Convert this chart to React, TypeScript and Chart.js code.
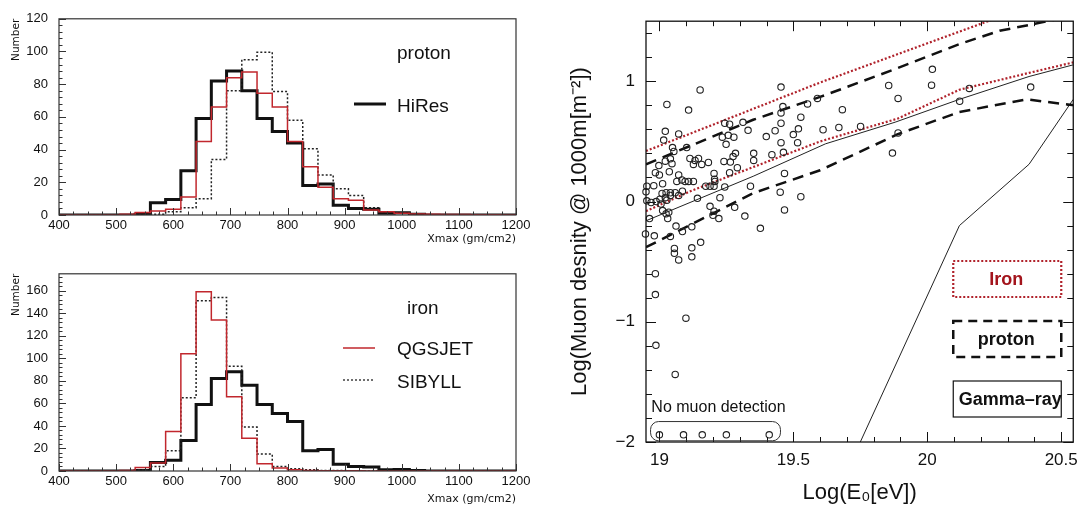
import React, { useEffect, useRef } from "react";
import { Chart, registerables } from "chart.js";

Chart.register(...registerables);

const SANS = "'Liberation Sans', Arial, Helvetica, sans-serif";
const DEJAVU = "'DejaVu Sans', 'Liberation Sans', sans-serif";

// ---------------- Xmax histograms (30 bins, 400..1200 g/cm2) ----------------
const XMAX_MIN = 400;
const XMAX_MAX = 1200;
const XMAX_BINS = 30;

const HIRES = [0, 0, 0, 0, 0, 0.5, 7.5, 9.5, 27, 59, 82, 88, 76, 59, 51, 44, 18, 19, 6, 4, 3.5, 1, 1.4, 0.5, 0, 0, 0, 0, 0, 0];
const PROTON_QGSJET = [0, 0, 0, 0, 0.5, 1.5, 2.5, 3.5, 11, 45, 66, 84, 87.5, 74.5, 66, 45, 29.5, 17, 10, 9, 3, 2, 1, 0.6, 0.4, 0.3, 0.3, 0.2, 0.2, 0];
const PROTON_SIBYLL = [0, 0, 0, 0, 0, 0, 0.5, 2, 4.5, 10, 34, 76, 95, 99.5, 75.5, 58, 40.5, 24.5, 16, 12, 4.5, 2, 1.4, 0.5, 0, 0, 0, 0, 0, 0];
const IRON_QGSJET = [0, 0, 0, 0, 0.5, 3, 7, 35, 104, 159, 134, 66, 29, 6.5, 2.6, 1.2, 0.5, 0.3, 0.3, 0.2, 0, 0, 0, 0, 0, 0, 0, 0, 0, 0];
const IRON_SIBYLL = [0, 0, 0, 0, 0, 1, 4, 18, 65, 151, 154, 93, 39, 15, 4, 2, 1, 0.5, 0.5, 0.3, 0, 0, 0, 0, 0, 0, 0, 0, 0, 0];

const HIST_X_LABELS = [400, 500, 600, 700, 800, 900, 1000, 1100, 1200];
const TOP_Y_LABELS = [0, 20, 40, 60, 80, 100, 120];
const BOTTOM_Y_LABELS = [0, 20, 40, 60, 80, 100, 120, 140, 160];
const TOP_Y_MAX = 120;
const BOTTOM_Y_MAX = 175;

// ---------------- Muon density vs energy ----------------
const E_MIN = 18.95;
const E_MAX = 20.545;
const MU_MIN = -2;
const MU_MAX = 1.5;
const E_TICKS = [19, 19.5, 20, 20.5];
const E_TICK_LABELS = ["19", "19.5", "20", "20.5"];
const MU_TICKS = [-2, -1, 0, 1];
const MU_TICK_LABELS = ["\u22122", "\u22121", "0", "1"];

const EVENTS: [number, number][] = [
  [19.152, 0.928], [19.028, 0.807], [19.109, 0.761], [19.022, 0.584], [19.016, 0.511], [19.072, 0.562],
  [19.244, 0.651], [19.262, 0.643], [19.312, 0.659], [19.331, 0.592], [19.235, 0.535], [19.257, 0.551],
  [19.278, 0.535], [19.249, 0.476], [19.049, 0.449], [19.054, 0.417], [19.102, 0.449], [18.998, 0.299],
  [19.022, 0.336], [19.047, 0.315], [19.041, 0.355], [19.114, 0.358], [19.133, 0.342], [19.146, 0.358],
  [19.158, 0.309], [19.127, 0.309], [19.183, 0.325], [19.241, 0.334], [19.265, 0.328], [19.275, 0.374],
  [19.284, 0.401], [19.352, 0.401], [19.352, 0.342], [19.291, 0.282], [18.985, 0.24], [19.0, 0.221],
  [19.037, 0.248], [19.072, 0.221], [19.065, 0.167], [19.084, 0.18], [19.096, 0.167], [19.109, 0.167],
  [19.127, 0.167], [19.204, 0.234], [19.206, 0.186], [19.262, 0.24], [18.953, 0.127], [18.95, 0.081],
  [18.979, 0.132], [19.012, 0.148], [19.01, 0.067], [19.025, 0.073], [19.041, 0.073], [19.086, 0.086],
  [19.072, 0.051], [19.059, 0.073], [19.173, 0.127], [19.189, 0.127], [19.204, 0.127], [19.207, 0.167],
  [19.244, 0.121], [19.34, 0.127], [18.953, 0.006], [18.969, -0.008], [18.988, 0.0], [19.002, 0.019],
  [19.022, 0.032], [19.041, 0.051], [19.028, 0.011], [19.006, -0.021], [19.142, 0.027], [19.226, 0.032],
  [19.281, -0.048], [19.189, -0.04], [19.204, -0.08], [19.2, -0.115], [19.222, -0.142], [19.012, -0.075],
  [19.025, -0.102], [19.035, -0.089], [18.963, -0.142], [19.031, -0.142], [19.319, -0.121], [19.062, -0.204],
  [19.086, -0.25], [19.121, -0.21], [18.948, -0.269], [18.981, -0.285], [19.041, -0.29], [19.377, -0.223],
  [19.154, -0.339], [19.056, -0.39], [19.056, -0.43], [19.121, -0.385], [19.072, -0.486], [19.121, -0.46],
  [18.985, -0.6], [18.985, -0.774], [19.099, -0.97], [18.987, -1.196], [19.059, -1.438],
  [19.0, -1.94], [19.09, -1.94], [19.16, -1.94], [19.25, -1.94], [19.41, -1.94],
  [19.454, 0.952], [19.461, 0.79], [19.454, 0.737], [19.553, 0.812], [19.59, 0.858], [19.528, 0.702],
  [19.683, 0.764], [19.454, 0.651], [19.432, 0.589], [19.519, 0.605], [19.5, 0.557], [19.399, 0.54],
  [19.454, 0.49], [19.516, 0.49], [19.611, 0.597], [19.67, 0.616], [19.751, 0.624], [19.42, 0.39],
  [19.463, 0.409], [19.856, 0.965], [19.891, 0.858], [19.891, 0.57], [19.87, 0.403], [19.467, 0.234],
  [19.451, 0.078], [19.528, 0.04], [19.467, -0.07],
  [20.019, 1.1], [20.016, 0.968], [20.121, 0.834], [20.157, 0.941], [20.386, 0.952],
];

const IRON_UPPER: [number, number][] = [[18.95, 0.42], [19.6, 0.99], [20.3, 1.56]];
const IRON_LOWER: [number, number][] = [[18.95, -0.08], [19.12, 0.09], [19.6, 0.5], [19.89, 0.69], [20.12, 0.93], [20.38, 1.07], [20.55, 1.16]];
const PROTON_UPPER: [number, number][] = [[18.95, 0.31], [19.35, 0.68], [19.6, 0.87], [19.89, 1.11], [20.12, 1.31], [20.27, 1.42], [20.45, 1.5], [20.55, 1.55]];
const PROTON_LOWER: [number, number][] = [[18.95, -0.38], [19.35, 0.07], [19.6, 0.26], [19.89, 0.56], [20.12, 0.745], [20.37, 0.85], [20.55, 0.8]];
const SOLID_REF: [number, number][] = [[18.95, -0.16], [19.35, 0.21], [19.62, 0.48], [19.88, 0.66], [20.12, 0.85], [20.38, 1.04], [20.55, 1.14]];
const GAMMA: [number, number][] = [[19.75, -2.0], [20.12, -0.2], [20.38, 0.31], [20.545, 0.85]];

const RED = "#c1272d";
const IRON_RED = "#b0222b";

// ---------------- helpers ----------------
function range(a: number, b: number, step: number): number[] {
  const out: number[] = [];
  for (let v = a; v <= b + 1e-9; v += step) out.push(Math.round(v * 1000) / 1000);
  return out;
}

function stepData(values: number[]) {
  const w = (XMAX_MAX - XMAX_MIN) / XMAX_BINS;
  const pts = values.map((v, i) => ({ x: XMAX_MIN + i * w, y: v }));
  pts.push({ x: XMAX_MAX, y: values[values.length - 1] });
  return pts;
}

function pairs(p: [number, number][]) {
  return p.map(([x, y]) => ({ x, y }));
}

type Side = "bottom" | "top" | "left" | "right";
interface TickSet {
  axis: "x" | "y";
  sides: Side[];
  major: number[];
  minor: number[];
  majorLen: number;
  minorLen: number;
}

function framePlugin(id: string, frameColor: string, frameWidth: number, tickSets: TickSet[], extra?: (chart: any) => void) {
  return {
    id,
    afterDatasetsDraw(chart: any) {
      const { ctx, chartArea: a, scales } = chart;
      ctx.save();
      ctx.strokeStyle = frameColor;
      ctx.lineWidth = 1;
      ctx.setLineDash([]);
      for (const ts of tickSets) {
        const sc = scales[ts.axis];
        const draw = (v: number, len: number) => {
          const p = Math.round(sc.getPixelForValue(v)) + 0.5;
          for (const side of ts.sides) {
            ctx.beginPath();
            if (side === "bottom") { ctx.moveTo(p, a.bottom); ctx.lineTo(p, a.bottom - len); }
            else if (side === "top") { ctx.moveTo(p, a.top); ctx.lineTo(p, a.top + len); }
            else if (side === "left") { ctx.moveTo(a.left, p); ctx.lineTo(a.left + len, p); }
            else { ctx.moveTo(a.right, p); ctx.lineTo(a.right - len, p); }
            ctx.stroke();
          }
        };
        ts.minor.forEach((v) => draw(v, ts.minorLen));
        ts.major.forEach((v) => draw(v, ts.majorLen));
      }
      ctx.lineWidth = frameWidth;
      ctx.strokeRect(a.left, a.top, a.right - a.left, a.bottom - a.top);
      ctx.restore();
      if (extra) {
        ctx.save();
        extra(chart);
        ctx.restore();
      }
    },
  };
}

function histConfig(o: {
  datasets: any[];
  yMax: number;
  yLabels: number[];
  padTop: number;
  xAxisHeight: number;
  titlePad: number;
  legend: (chart: any) => void;
}): any {
  const ticks: TickSet[] = [
    { axis: "x", sides: ["bottom"], major: HIST_X_LABELS, minor: range(XMAX_MIN, XMAX_MAX, 25), majorLen: 7, minorLen: 3.5 },
    { axis: "y", sides: ["left"], major: o.yLabels, minor: range(0, o.yMax, 4), majorLen: 7, minorLen: 3.5 },
  ];
  return {
    type: "line",
    data: { datasets: o.datasets },
    options: {
      animation: false,
      responsive: false,
      events: [],
      layout: { padding: { top: o.padTop, right: 44, left: 0, bottom: 0 } },
      plugins: { legend: { display: false }, tooltip: { enabled: false } },
      elements: { point: { radius: 0 }, line: { tension: 0 } },
      scales: {
        x: {
          type: "linear",
          min: XMAX_MIN,
          max: XMAX_MAX,
          grid: { display: false, drawTicks: false },
          border: { display: false },
          afterBuildTicks: (s: any) => { s.ticks = HIST_X_LABELS.map((v) => ({ value: v })); },
          ticks: { padding: 3, color: "#111", font: { family: SANS, size: 13 }, maxRotation: 0, autoSkip: false, callback: (v: any) => String(v) },
          title: { display: true, text: "Xmax (gm/cm2)", align: "end", color: "#111", font: { family: DEJAVU, size: 11 }, padding: { top: 0, bottom: o.titlePad } },
          afterFit: (s: any) => { s.height = o.xAxisHeight; },
        },
        y: {
          type: "linear",
          min: 0,
          max: o.yMax,
          grid: { display: false, drawTicks: false },
          border: { display: false },
          afterBuildTicks: (s: any) => { s.ticks = o.yLabels.map((v) => ({ value: v })); },
          ticks: { padding: 11, color: "#111", font: { family: SANS, size: 13 }, autoSkip: false, callback: (v: any) => String(v) },
          title: { display: true, text: "Number", align: "end", color: "#111", font: { family: DEJAVU, size: 10.5 }, padding: { top: 10, bottom: 0 } },
          afterFit: (s: any) => { s.width = 59; },
        },
      },
    },
    plugins: [framePlugin("histFrame", "#333", 1.2, ticks, o.legend)],
  };
}

function legendLine(ctx: CanvasRenderingContext2D, x1: number, x2: number, y: number, color: string, width: number, dash: number[]) {
  ctx.beginPath();
  ctx.strokeStyle = color;
  ctx.lineWidth = width;
  ctx.setLineDash(dash);
  ctx.moveTo(x1, y);
  ctx.lineTo(x2, y);
  ctx.stroke();
  ctx.setLineDash([]);
}

function legendText(ctx: CanvasRenderingContext2D, text: string, x: number, y: number) {
  ctx.fillStyle = "#111";
  ctx.font = `19px ${SANS}`;
  ctx.textAlign = "left";
  ctx.textBaseline = "middle";
  ctx.fillText(text, x, y);
}

function topHistConfig() {
  return histConfig({
    datasets: [
      { data: stepData(PROTON_QGSJET), stepped: "before", borderColor: RED, borderWidth: 1.5 },
      { data: stepData(PROTON_SIBYLL), stepped: "before", borderColor: "#222", borderWidth: 1.5, borderDash: [2, 2] },
      { data: stepData(HIRES), stepped: "before", borderColor: "#111", borderWidth: 3 },
    ],
    yMax: TOP_Y_MAX,
    yLabels: TOP_Y_LABELS,
    padTop: 15,
    xAxisHeight: 35,
    titlePad: 4,
    legend: (chart) => {
      const ctx = chart.ctx;
      legendText(ctx, "proton", 397, 54);
      legendText(ctx, "HiRes", 397, 107);
      legendLine(ctx, 354, 386, 104, "#111", 3, []);
    },
  });
}

function bottomHistConfig() {
  return histConfig({
    datasets: [
      { data: stepData(IRON_QGSJET), stepped: "before", borderColor: RED, borderWidth: 1.5 },
      { data: stepData(IRON_SIBYLL), stepped: "before", borderColor: "#222", borderWidth: 1.5, borderDash: [2, 2] },
      { data: stepData(HIRES), stepped: "before", borderColor: "#111", borderWidth: 3 },
    ],
    yMax: BOTTOM_Y_MAX,
    yLabels: BOTTOM_Y_LABELS,
    padTop: 17,
    xAxisHeight: 38,
    titlePad: 3,
    legend: (chart) => {
      const ctx = chart.ctx;
      legendText(ctx, "iron", 407, 54);
      legendText(ctx, "QGSJET", 397, 95);
      legendLine(ctx, 343, 375, 93, RED, 1.5, []);
      legendText(ctx, "SIBYLL", 397, 128);
      legendLine(ctx, 343, 375, 125, "#222", 1.3, [2, 2]);
    },
  });
}

function roundRectPath(ctx: CanvasRenderingContext2D, x: number, y: number, w: number, h: number, r: number) {
  ctx.beginPath();
  ctx.moveTo(x + r, y);
  ctx.lineTo(x + w - r, y);
  ctx.arcTo(x + w, y, x + w, y + r, r);
  ctx.lineTo(x + w, y + h - r);
  ctx.arcTo(x + w, y + h, x + w - r, y + h, r);
  ctx.lineTo(x + r, y + h);
  ctx.arcTo(x, y + h, x, y + h - r, r);
  ctx.lineTo(x, y + r);
  ctx.arcTo(x, y, x + r, y, r);
  ctx.closePath();
}

function muonConfig(): any {
  const lineDs = (pts: [number, number][], color: string, width: number, dash: number[]) => ({
    type: "line",
    data: pairs(pts),
    showLine: true,
    borderColor: color,
    borderWidth: width,
    borderDash: dash,
    pointRadius: 0,
    fill: false,
    tension: 0,
  });
  const ticks: TickSet[] = [
    { axis: "x", sides: ["bottom", "top"], major: E_TICKS, minor: range(19, 20.5, 0.1), majorLen: 10, minorLen: 5 },
    { axis: "y", sides: ["left", "right"], major: MU_TICKS, minor: range(-2, 1.4, 0.2), majorLen: 10, minorLen: 6 },
  ];
  const annotate = (chart: any) => {
    const ctx: CanvasRenderingContext2D = chart.ctx;
    const xs = chart.scales.x;
    const ys = chart.scales.y;
    // "No muon detection" bracket around the non-detected events
    ctx.strokeStyle = "#333";
    ctx.lineWidth = 1;
    const bx1 = xs.getPixelForValue(18.967);
    const bx2 = xs.getPixelForValue(19.452);
    const by1 = ys.getPixelForValue(-1.83);
    const by2 = ys.getPixelForValue(-1.99);
    roundRectPath(ctx, bx1, by1, bx2 - bx1, by2 - by1, 8);
    ctx.stroke();
    ctx.fillStyle = "#111";
    ctx.font = `16px ${SANS}`;
    ctx.textAlign = "left";
    ctx.textBaseline = "middle";
    ctx.fillText("No muon detection", xs.getPixelForValue(18.97), ys.getPixelForValue(-1.71));

    // legend boxes
    const a = chart.chartArea;
    const bxL = a.right - 120;
    const bxW = 108;
    // Iron
    ctx.strokeStyle = IRON_RED;
    ctx.lineWidth = 2.2;
    ctx.setLineDash([2, 2]);
    ctx.strokeRect(bxL, 261, bxW, 36);
    ctx.setLineDash([]);
    ctx.fillStyle = "#a3141c";
    ctx.font = `bold 18px ${SANS}`;
    ctx.textAlign = "center";
    ctx.fillText("Iron", bxL + bxW / 2 - 1, 280);
    // proton
    ctx.strokeStyle = "#111";
    ctx.lineWidth = 2.5;
    ctx.setLineDash([9, 6]);
    ctx.strokeRect(bxL, 321, bxW, 36);
    ctx.setLineDash([]);
    ctx.fillStyle = "#111";
    ctx.fillText("proton", bxL + bxW / 2 - 1, 340);
    // Gamma-ray
    ctx.lineWidth = 1.2;
    ctx.strokeRect(bxL, 381, bxW, 36);
    ctx.fillText("Gamma\u2013ray", bxL + bxW / 2 + 3, 400);
  };
  return {
    type: "scatter",
    data: {
      datasets: [
        {
          data: pairs(EVENTS),
          pointStyle: "circle",
          pointRadius: 3.2,
          pointBorderWidth: 1.1,
          pointBorderColor: "#222",
          pointBackgroundColor: "rgba(0,0,0,0)",
          showLine: false,
          clip: 6,
        },
        lineDs(IRON_UPPER, IRON_RED, 2.2, [2, 2]),
        lineDs(IRON_LOWER, IRON_RED, 2.2, [2, 2]),
        lineDs(PROTON_UPPER, "#111", 2.5, [11, 7]),
        lineDs(PROTON_LOWER, "#111", 2.5, [11, 7]),
        lineDs(SOLID_REF, "#222", 1, []),
        lineDs(GAMMA, "#222", 1, []),
      ],
    },
    options: {
      animation: false,
      responsive: false,
      events: [],
      layout: { padding: { top: 9, right: 9, left: 0, bottom: 0 } },
      plugins: { legend: { display: false }, tooltip: { enabled: false } },
      scales: {
        x: {
          type: "linear",
          min: E_MIN,
          max: E_MAX,
          grid: { display: false, drawTicks: false },
          border: { display: false },
          afterBuildTicks: (s: any) => { s.ticks = E_TICKS.map((v) => ({ value: v })); },
          ticks: { padding: 8, color: "#111", font: { family: SANS, size: 17 }, maxRotation: 0, autoSkip: false, callback: (_v: any, i: number) => E_TICK_LABELS[i] },
          title: { display: true, text: "Log(E\u2080[eV])", color: "#111", font: { family: SANS, size: 22 }, padding: { top: 0, bottom: 3 } },
          afterFit: (s: any) => { s.height = 67; },
        },
        y: {
          type: "linear",
          min: MU_MIN,
          max: MU_MAX,
          grid: { display: false, drawTicks: false },
          border: { display: false },
          afterBuildTicks: (s: any) => { s.ticks = MU_TICKS.map((v) => ({ value: v })); },
          ticks: { padding: 11, color: "#111", font: { family: SANS, size: 17 }, autoSkip: false, callback: (_v: any, i: number) => MU_TICK_LABELS[i] },
          title: { display: true, text: "Log(Muon desnity @ 1000m[m\u207B\u00B2])", color: "#111", font: { family: SANS, size: 22 }, padding: { top: 7, bottom: 0 } },
          afterFit: (s: any) => { s.width = 86; },
        },
      },
    },
    plugins: [framePlugin("muonFrame", "#111", 1.3, ticks, annotate)],
  };
}

function ChartCanvas({ left, top, width, height, make }: { left: number; top: number; width: number; height: number; make: () => any }) {
  const ref = useRef<HTMLCanvasElement>(null);
  useEffect(() => {
    const chart = new Chart(ref.current as HTMLCanvasElement, make());
    return () => chart.destroy();
  }, []);
  return (
    <canvas
      ref={ref}
      width={width}
      height={height}
      style={{ position: "absolute", left, top, width, height, display: "block" }}
    />
  );
}

export default function App() {
  return (
    <div style={{ position: "fixed", left: 0, top: 0, width: 1086, height: 509, background: "#fff", overflow: "hidden" }}>
      <ChartCanvas left={0} top={0} width={560} height={250} make={topHistConfig} />
      <ChartCanvas left={0} top={255} width={560} height={254} make={bottomHistConfig} />
      <ChartCanvas left={560} top={0} width={526} height={509} make={muonConfig} />
    </div>
  );
}
